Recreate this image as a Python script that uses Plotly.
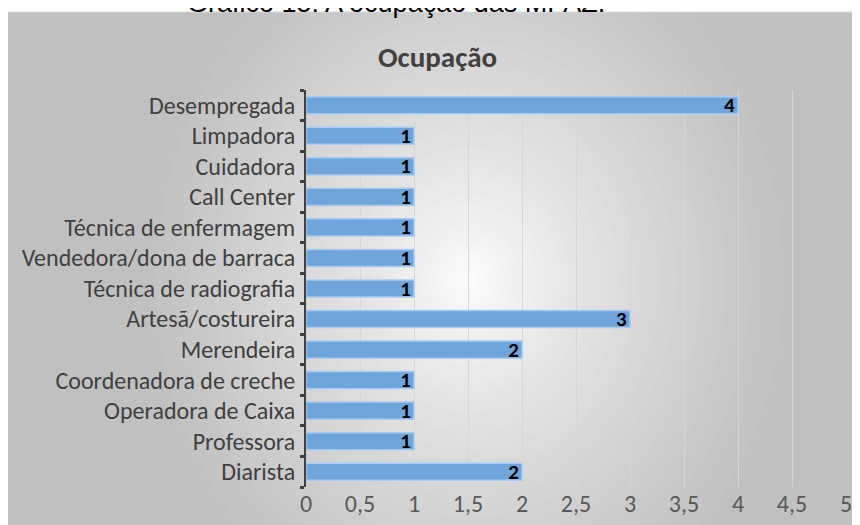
import plotly.graph_objects as go

# Data (bottom to top as drawn)
categories = ["Diarista", "Professora", "Operadora de Caixa", "Coordenadora de creche",
              "Merendeira", "Artesã/costureira", "Técnica de radiografia",
              "Vendedora/dona de barraca", "Técnica de enfermagem", "Call Center",
              "Cuidadora", "Limpadora", "Desempregada"]
values = [2, 1, 1, 1, 2, 3, 1, 1, 1, 1, 1, 1, 4]
x_ticks = [0, 0.5, 1, 1.5, 2, 2.5, 3, 3.5, 4, 4.5, 5]

W, H = 860, 525
OFF = 8  # page body margin offset (screen px = figure px + OFF)
L, R, T, B = 298, 22, 82, 46
pw, ph = W - L - R, H - T - B

def px2paper_x(p):
    return (p - OFF - L) / pw

def py2paper_y(p):
    return (H - B - (p - OFF)) / ph

FONT = "Carlito, Calibri, 'Open Sans', sans-serif"

fig = go.Figure(go.Bar(
    x=values, y=categories, orientation="h",
    marker=dict(color="#6fa5db", line=dict(color="#a8cbef", width=1.5)),
    width=0.56,
    text=values, texttemplate="<b>%{x}</b>",
    textposition="inside", insidetextanchor="end", textangle=0,
    constraintext="none",
    textfont=dict(color="black", size=21, family=FONT),
    hoverinfo="skip",
))

shapes = []
bx0, bx1 = px2paper_x(7), px2paper_x(880)
by0, by1 = py2paper_y(545), py2paper_y(12)
shapes.append(dict(type="rect", xref="paper", yref="paper", x0=bx0, x1=bx1, y0=by0, y1=by1,
                   fillcolor="#c0c0c0", line=dict(width=0), layer="below"))
cx, cy = 470, 280
rx, ry = 330, 380
N = 40
for i in range(N, 0, -1):
    r = i / N
    g = 192 + (255 - 192) * (1 - r ** 0.8)
    g = int(round(g))
    col = f"rgb({g},{g},{g})"
    shapes.append(dict(type="circle", xref="paper", yref="paper",
                       x0=px2paper_x(cx - rx * r), x1=px2paper_x(cx + rx * r),
                       y0=py2paper_y(cy + ry * r), y1=py2paper_y(cy - ry * r),
                       fillcolor=col, line=dict(width=0), layer="below"))
shapes.append(dict(type="rect", xref="paper", yref="paper", x0=px2paper_x(-20), x1=px2paper_x(900),
                   y0=py2paper_y(12), y1=py2paper_y(-60),
                   fillcolor="white", line=dict(width=0), layer="below"))
shapes.append(dict(type="line", xref="paper", yref="paper", x0=bx0, x1=bx1,
                   y0=py2paper_y(12), y1=py2paper_y(12),
                   line=dict(color="#d9d9d9", width=1), layer="below"))

fig.update_layout(
    width=W, height=H,
    margin=dict(l=L, r=R, t=T, b=B, pad=0, autoexpand=False),
    paper_bgcolor="white", plot_bgcolor="rgba(0,0,0,0)",
    separators=",.",
    showlegend=False,
    bargap=0.44,
    shapes=shapes,
    font=dict(family=FONT, color="#595959", size=24),
    xaxis=dict(range=[0, 5], tickvals=x_ticks, showgrid=True, gridcolor="#d6d6d6", gridwidth=1,
               zeroline=False, showline=False, ticks="", tickfont=dict(size=24, color="#595959"),
               fixedrange=True, automargin=False),
    yaxis=dict(categoryorder="array", categoryarray=categories, showgrid=False,
               showline=True, linecolor="#404040", linewidth=2,
               ticks="outside", tickson="boundaries", ticklen=4, tickwidth=3, tickcolor="#404040",
               ticklabelstandoff=4,
               tickfont=dict(size=24, color="#404040"), fixedrange=True, automargin=False),
    annotations=[
        dict(text="<b>Ocupação</b>", xref="paper", yref="paper",
             x=px2paper_x(437), y=py2paper_y(57), xanchor="center", yanchor="middle",
             showarrow=False, font=dict(size=29, color="#404040", family=FONT)),
        dict(text="Gráfico 15: A ocupação das MPAZ.", xref="paper", yref="paper",
             x=px2paper_x(396), y=py2paper_y(3), xanchor="center", yanchor="middle",
             showarrow=False, font=dict(size=27, color="black",
                                        family="'Liberation Sans', Arial, sans-serif")),
    ],
)

fig.write_html("out.html")
